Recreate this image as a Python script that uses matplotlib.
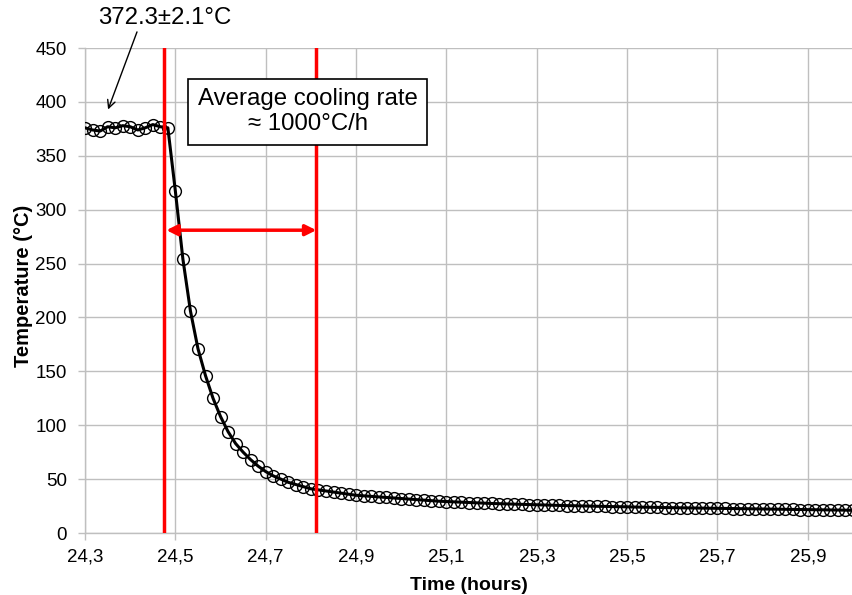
import numpy as np
import matplotlib
matplotlib.use("Agg")
import matplotlib.pyplot as plt

plt.rcParams['font.family'] = ['Liberation Sans', 'DejaVu Sans']

# Data: temperature sampled once per minute starting at 24.3 h
start_hour = 24.3
step_hour = 1.0 / 60.0
temperature = [
    376, 374, 373, 377, 376, 378, 377, 374, 376, 379, 377, 376,
    317, 254, 206, 171, 146, 125, 108, 94, 83, 75, 68, 62, 57, 53, 50, 47,
    45, 43, 41, 40, 39, 38, 37, 36, 35, 34.5, 34, 33.5, 33, 32.5, 32, 31.5,
    31, 30.5, 30, 29.5, 29.2, 28.9, 28.6, 28.3, 28, 27.7, 27.4, 27.2, 27,
    26.8, 26.6, 26.4, 26.2, 26, 25.8, 25.6, 25.4, 25.3, 25.1, 25, 24.8,
    24.7, 24.5, 24.4, 24.3, 24.1, 24, 23.9, 23.8, 23.6, 23.5, 23.4, 23.3,
    23.2, 23.1, 23, 22.9, 22.8, 22.7, 22.6, 22.5, 22.4, 22.3, 22.2, 22.1,
    22, 21.9, 21.8, 21.7, 21.6, 21.5, 21.4, 21.3, 21.2, 21.1,
]
time_h = start_hour + step_hour * np.arange(len(temperature))

x_ticks = [24.3, 24.5, 24.7, 24.9, 25.1, 25.3, 25.5, 25.7, 25.9]
x_tick_labels = ["24,3", "24,5", "24,7", "24,9", "25,1", "25,3", "25,5", "25,7", "25,9"]
y_ticks = [0, 50, 100, 150, 200, 250, 300, 350, 400, 450]

cooling_start = 24.475
cooling_end = 24.812
arrow_level = 281
plateau_label = "372.3±2.1°C"
rate_label = "Average cooling rate\n≈ 1000°C/h"

fig = plt.figure(figsize=(8.53, 5.95), dpi=100)
ax = fig.add_axes([0.0997, 0.1042, 0.9003, 0.815])

grid_c = '#bfbfbf'
ax.set_xlim(24.3, 26.0)
ax.set_ylim(0, 450)
ax.set_xticks(x_ticks)
ax.set_xticklabels(x_tick_labels)
ax.set_yticks(y_ticks)
ax.grid(True, color=grid_c, lw=1.0)
ax.set_axisbelow(True)
for s in ['top', 'right']:
    ax.spines[s].set_visible(False)
for s in ['left', 'bottom']:
    ax.spines[s].set_color(grid_c)
    ax.spines[s].set_linewidth(1.0)
ax.tick_params(axis='both', colors=grid_c, labelcolor='black', labelsize=13.5,
               length=5, width=1, direction='out')
ax.tick_params(axis='y', pad=8)
ax.tick_params(axis='x', pad=6)

ax.plot(time_h, temperature, color='black', lw=2.2, zorder=3)
ax.plot(time_h, temperature, ls='none', marker='o', ms=8.5, mfc='none',
        mec='black', mew=1.0, zorder=4)

ax.axvline(cooling_start, color='#ff0000', lw=2.5, zorder=5)
ax.axvline(cooling_end, color='#ff0000', lw=2.5, zorder=5)
ax.annotate('', xy=(cooling_start + 0.005, arrow_level), xytext=(cooling_end, arrow_level),
            arrowprops=dict(arrowstyle='<|-|>', color='#ff0000', lw=2.5,
                            mutation_scale=16, shrinkA=0, shrinkB=0), zorder=6)

ax.text(24.477, 478, plateau_label, ha='center', va='center', fontsize=17.3,
        clip_on=False)
ax.annotate('', xy=(24.351, 393), xytext=(24.415, 465), annotation_clip=False,
            arrowprops=dict(arrowstyle='->', color='black', lw=1.0,
                            shrinkA=0, shrinkB=0, mutation_scale=14))

ax.text(24.793, 391, rate_label, ha='center', va='center', fontsize=17.3,
        linespacing=1.15, zorder=7,
        bbox=dict(boxstyle='square,pad=0.4', fc='white', ec='black', lw=1.2))

ax.set_xlabel('Time (hours)', fontsize=14, fontweight='bold')
ax.set_ylabel('Temperature (°C)', fontsize=14.5, fontweight='bold')
ax.xaxis.set_label_coords(0.5, -0.09)
ax.yaxis.set_label_coords(-0.068, 0.51)

fig.savefig('out.png', dpi=100)
